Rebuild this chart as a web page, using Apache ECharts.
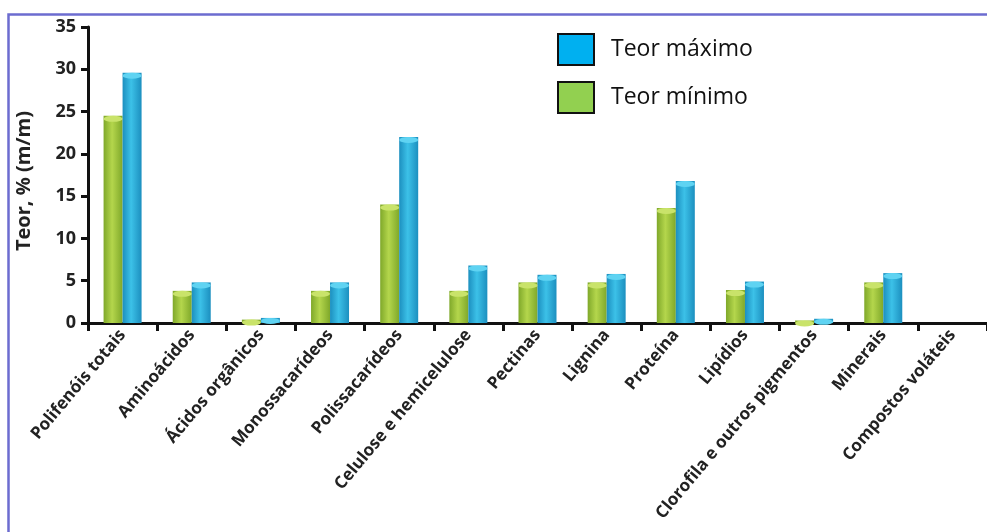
<!DOCTYPE html>
<html>
<head>
<meta charset="utf-8">
<script src="https://cdn.jsdelivr.net/npm/echarts@6/dist/echarts.min.js"></script>
<style>
  html, body { margin: 0; padding: 0; background: #fff; }
  #chart { width: 987px; height: 532px; }
</style>
</head>
<body>
<div id="chart"></div>
<script>
// Composition categories and content ranges, % (m/m)
const categories = [
  'Polifenóis totais', 'Aminoácidos', 'Ácidos orgânicos', 'Monossacarídeos',
  'Polissacarídeos', 'Celulose e hemicelulose', 'Pectinas', 'Lignina',
  'Proteína', 'Lipídios', 'Clorofila e outros pigmentos', 'Minerais',
  'Compostos voláteis'
];
const teorMinimo = [24.5, 3.8, 0.4, 3.8, 14.0, 3.8, 4.8, 4.8, 13.6, 3.9, 0.3, 4.8, 0];
const teorMaximo = [29.6, 4.8, 0.6, 4.8, 22.0, 6.8, 5.7, 5.8, 16.8, 4.9, 0.5, 5.9, 0];
const yTicks = { min: 0, max: 35, interval: 5 };

const FONT = 'Open Sans';
const BAR_W = 19;

function cylinder(edge, mid) {
  return {
    type: 'linear', x: 0, y: 0, x2: 1, y2: 0,
    colorStops: [
      { offset: 0, color: edge },
      { offset: 0.45, color: mid },
      { offset: 1, color: edge }
    ]
  };
}
const greenFill = cylinder('#7fa82a', '#b4d64c');
const blueFill = cylinder('#1c8fbf', '#3cc1e8');

// caps only where a cylinder exists
const capOf = arr => arr.map(v => (v > 0 ? v : null));

const chart = echarts.init(document.getElementById('chart'));
chart.setOption({
  animation: false,
  backgroundColor: '#fff',
  graphic: [{
    type: 'rect',
    shape: { x: 8.5, y: 14.5, width: 1100, height: 600 },
    style: { fill: 'none', stroke: '#6c6cd0', lineWidth: 2.5 },
    silent: true,
    z: 100
  }],
  grid: { left: 88, top: 27, bottom: 209, right: -6, containLabel: false },
  legend: {
    orient: 'vertical',
    left: 557,
    top: 33,
    padding: 0,
    itemWidth: 36,
    itemHeight: 31,
    itemGap: 15,
    selectedMode: false,
    textStyle: { fontFamily: FONT, fontSize: 23, color: '#111', padding: [0, 0, 0, 12] },
    data: [
      { name: 'Teor máximo', icon: 'rect', itemStyle: { color: '#00b0f0', borderColor: '#111', borderWidth: 2 } },
      { name: 'Teor mínimo', icon: 'rect', itemStyle: { color: '#92d050', borderColor: '#111', borderWidth: 2 } }
    ]
  },
  xAxis: {
    type: 'category',
    data: categories,
    boundaryGap: true,
    axisLine: { lineStyle: { color: '#111', width: 3 } },
    axisTick: { show: true, length: 8, lineStyle: { color: '#111', width: 3 } },
    axisLabel: {
      interval: 0,
      rotate: 50,
      margin: 9,
      fontFamily: FONT,
      fontWeight: 'bold',
      fontSize: 17,
      color: '#222'
    }
  },
  yAxis: {
    type: 'value',
    min: yTicks.min,
    max: yTicks.max,
    interval: yTicks.interval,
    name: 'Teor, % (m/m)',
    nameLocation: 'middle',
    nameGap: 54,
    nameTextStyle: { fontFamily: FONT, fontWeight: 'bold', fontSize: 20, color: '#222', padding: [0, 12, 0, 0] },
    axisLine: { show: true, lineStyle: { color: '#111', width: 3 } },
    axisTick: { show: true, length: 7, lineStyle: { color: '#111', width: 3 } },
    axisLabel: { fontFamily: FONT, fontWeight: 'bold', fontSize: 18, color: '#222', margin: 12 },
    splitLine: { show: false }
  },
  series: [
    {
      name: 'Teor mínimo',
      type: 'bar',
      data: teorMinimo,
      barWidth: BAR_W,
      barGap: '0%',
      itemStyle: { color: greenFill }
    },
    {
      name: 'Teor máximo',
      type: 'bar',
      data: teorMaximo,
      barWidth: BAR_W,
      barGap: '0%',
      itemStyle: { color: blueFill }
    },
    // Elliptical caps on top of the cylinders
    {
      name: 'capMin',
      type: 'pictorialBar',
      data: capOf(teorMinimo),
      symbol: 'circle',
      symbolSize: [BAR_W, 6],
      symbolPosition: 'end',
      symbolOffset: [-BAR_W / 2, 0],
      itemStyle: { color: '#c9e36a' },
      silent: true,
      z: 3
    },
    {
      name: 'capMax',
      type: 'pictorialBar',
      data: capOf(teorMaximo),
      symbol: 'circle',
      symbolSize: [BAR_W, 6],
      symbolPosition: 'end',
      symbolOffset: [BAR_W / 2, 0],
      itemStyle: { color: '#5fd3f2' },
      silent: true,
      z: 3
    }
  ]
});
</script>
</body>
</html>
